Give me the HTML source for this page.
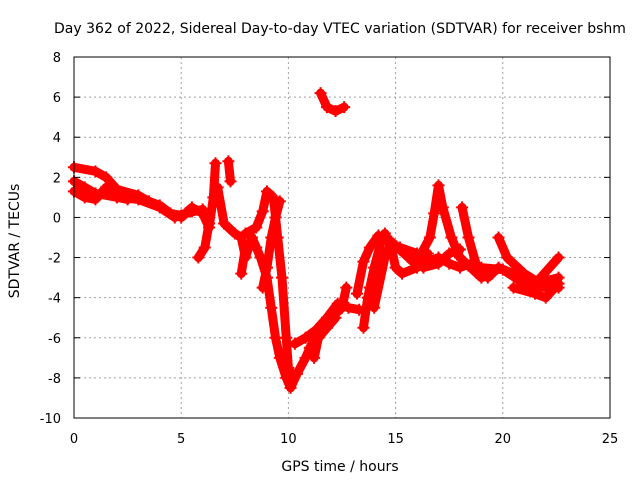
<!DOCTYPE html>
<html><head><meta charset="utf-8"><style>
body{margin:0;background:#fff;}
svg text{font-family:"DejaVu Sans","Liberation Sans",sans-serif;font-size:13px;fill:#000;}
svg text.big{font-size:14px;}
</style></head><body>
<svg id="chart" width="640" height="480" xmlns="http://www.w3.org/2000/svg">
<rect width="640" height="480" fill="#fff"/>
<text class="big" x="340" y="33" text-anchor="middle">Day 362 of 2022, Sidereal Day-to-day VTEC variation (SDTVAR) for receiver bshm</text>
<g id="grid"></g>
<g id="series"></g>
<rect x="74" y="57" width="536" height="361" fill="none" stroke="#000" stroke-width="1"/>
<g id="ticks"></g>
<text class="big" x="340" y="471" text-anchor="middle">GPS time / hours</text>
<text class="big" transform="translate(19,241) rotate(-90)" text-anchor="middle">SDTVAR / TECUs</text>
</svg>
<script>
const xTicks=[0,5,10,15,20,25];
const yTicks=[-10,-8,-6,-4,-2,0,2,4,6,8];
const track1=[[0,2.5],[1,2.3],[1.5,2.0],[2,1.4],[3,1.1],[3.5,0.8],[4,0.6],[4.5,0.2],[5,0.1],[5.5,0.3]];
const track2=[[0,1.8],[0.5,1.5],[1,1.2],[2,1.0],[3,0.9],[4,0.5],[4.7,0],[5.2,0.2],[6,0.4]];
const track3=[[0,1.3],[0.5,1.0],[1,0.9],[1.5,1.5],[2,1.0],[2.5,0.9]];
const track4=[[5,0],[5.5,0.5],[6,0.2],[6.3,-0.5],[6.5,1],[6.6,2.7]];
const track5=[[5.8,-2],[6.1,-1.5],[6.3,-0.3]];
const track6=[[7.2,2.8],[7.3,1.8]];
const track7=[[6.7,1.5],[7,-0.3],[7.5,-0.8],[7.8,-1],[8,-2],[8.3,-1],[8.5,-1.5]];
const track8=[[7.8,-2.8],[8,-1.5]];
const track9=[[8,-0.8],[8.5,-0.5],[8.8,0.3],[9,1.3],[9.3,1],[9.5,-1],[9.7,-3],[9.9,-6],[10,-7.5],[10.2,-8]];
const track10=[[8.3,-1],[8.7,-2],[9,-3],[9.2,-4.5],[9.4,-6],[9.6,-7],[9.9,-8],[10.1,-8.5],[10.4,-7.8],[10.8,-7],[11,-6.5],[11.5,-5.5],[12,-5],[12.5,-4.5],[12.7,-3.5]];
const track11=[[9.6,0.8],[9.4,0],[9.2,-1],[9,-2.5],[8.8,-3.5]];
const track12=[[10.3,-6.3],[10.8,-6],[11.3,-5.6],[11.8,-5],[12.3,-4.3],[12.8,-4.5],[13.3,-4.6]];
const track13=[[11.2,-7],[11.4,-6],[11.8,-5.5],[12.2,-5]];
const track14=[[11.5,6.2],[11.8,5.5],[12.2,5.3],[12.6,5.5]];
const track15=[[13.5,-5.5],[13.7,-4],[13.8,-3.5],[14,-2.5],[14.3,-1.3],[14.5,-0.8],[14.8,-1.5],[15,-2.5],[15.3,-2.8],[16,-2.5],[16.5,-1.8]];
const track16=[[13.2,-3.8],[13.5,-2.2],[13.8,-1.5],[14.2,-0.9]];
const track17=[[14,-4.5],[14.5,-2],[14.8,-1.2],[15.2,-1.6],[15.8,-2.2],[16.2,-1.8],[16.6,-1],[16.8,0.2],[17,1.6],[17.2,0.5],[17.6,-1],[18,-2],[18.4,-2.4],[19,-3],[19.5,-2.8]];
const track18=[[15.2,-1.5],[16,-1.8],[16.5,-2.2],[17,-2],[17.5,-2.3],[18,-2.5],[18.5,-2.3],[19,-2.5],[20,-2.6],[21,-3.3],[22,-3.5],[22.6,-3.5]];
const track19=[[18.1,0.5],[18.4,-1],[18.8,-2.5],[19.3,-3],[19.8,-2.5],[20.5,-2.8],[21.5,-3.3],[22.6,-3.0]];
const track20=[[19.8,-1],[20.2,-2],[21,-2.8],[21.6,-3.2],[22.6,-2.0]];
const track21=[[20.5,-3.5],[21.5,-3.8],[22,-4],[22.6,-3.3]];
const track22=[[16.3,-2.5],[17,-2.3],[17.5,-1.8],[18,-1.6]];
const tracks=[track1,track2,track3,track4,track5,track6,track7,track8,track9,track10,track11,track12,track13,track14,track15,track16,track17,track18,track19,track20,track21,track22];
const NS="http://www.w3.org/2000/svg";
const X=t=>74+t*536/25;
const Y=v=>57+(8-v)*361/18;
const grid=document.getElementById('grid'),ticks=document.getElementById('ticks'),ser=document.getElementById('series');
function mk(tag,attrs,parent){const e=document.createElementNS(NS,tag);for(const k in attrs)e.setAttribute(k,attrs[k]);parent.appendChild(e);return e;}
xTicks.forEach(t=>{
  if(t>0&&t<25){const g=mk('line',{x1:X(t),x2:X(t),y1:57,y2:418,stroke:'#a0a0a0','stroke-dasharray':'2,3'},grid);
  
  }
  const l=mk('text',{x:X(t),y:443,'text-anchor':'middle'},ticks);l.textContent=t;
  
  
});
yTicks.forEach(v=>{
  if(v>-10&&v<8){const g=mk('line',{x1:74,x2:610,y1:Y(v),y2:Y(v),stroke:'#a0a0a0','stroke-dasharray':'2,3'},grid);
  
  }
  mk('line',{x1:74,x2:80,y1:Y(v),y2:Y(v),stroke:'#000'},ticks);
  mk('line',{x1:604,x2:610,y1:Y(v),y2:Y(v),stroke:'#000'},ticks);
  const l=mk('text',{x:61,y:Y(v)+5,'text-anchor':'end'},ticks);l.textContent=v;
  
  
});
tracks.forEach((tr,i)=>{
  const p=mk('polyline',{points:tr.map(d=>X(d[0])+','+Y(d[1])).join(' '),fill:'none',stroke:'#f00','stroke-width':9,'stroke-linejoin':'round','stroke-linecap':'round'},ser);
  
  
  tr.forEach(d=>{
    const m=mk('path',{d:`M${X(d[0])-6},${Y(d[1])}h12M${X(d[0])},${Y(d[1])-6}v12`,stroke:'#f00','stroke-width':2},ser);
    
    
  });
});
</script>
</body></html>
